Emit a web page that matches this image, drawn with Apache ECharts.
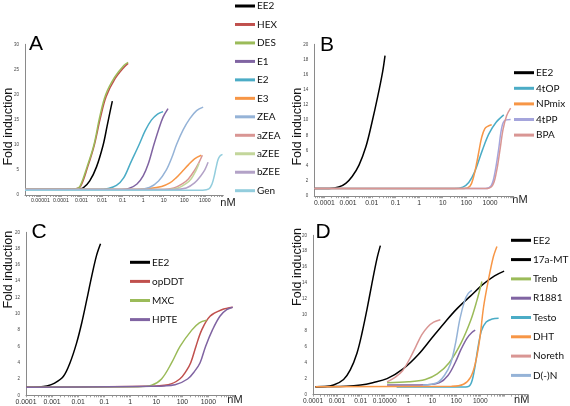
<!DOCTYPE html>
<html><head><meta charset="utf-8">
<script src="https://cdn.jsdelivr.net/npm/echarts@6/dist/echarts.min.js"></script>
<style>html,body{margin:0;padding:0;background:#fff}#c{width:570px;height:406px}</style>
</head><body><div id="c"></div>
<script>
// x values are log10(concentration in nM), y values are fold induction
const A_EE2 = [[-5.75,1.1],[-3.6,1.1],[-3.2,1.15],[-2.92,1.4],[-2.6,2.8],[-2.27,5.6],[-1.95,9.9],[-1.76,13.6],[-1.6,16.8],[-1.5,18.7]];
const A_HEX = [[-5.75,1.1],[-3.7,1.1],[-3.3,1.2],[-3.05,1.7],[-2.7,5.6],[-2.38,9.9],[-2.09,15.2],[-1.8,19.6],[-1.36,23.2],[-0.92,25.5],[-0.73,26.2]];
const A_DES = [[-5.75,1.1],[-3.7,1.1],[-3.3,1.2],[-3.09,1.6],[-2.73,5.6],[-2.40,9.9],[-2.11,15.6],[-1.82,20],[-1.38,23.5],[-0.94,25.8],[-0.73,26.4]];
const A_E1 = [[-5.75,1.1],[-1.2,1.1],[-0.7,1.3],[-0.3,2.2],[0.0,3.8],[0.25,6.2],[0.52,10],[0.75,13],[0.97,15.5],[1.21,17.2]];
const A_E2 = [[-5.75,1.1],[-2.2,1.1],[-1.7,1.3],[-1.3,1.9],[-0.95,3.4],[-0.6,6.5],[-0.2,10],[0.1,12.8],[0.4,14.9],[0.7,16.1],[0.97,16.6]];
const A_E3 = [[-5.75,1.1],[-0.5,1.1],[0.3,1.3],[0.9,1.7],[1.3,2.4],[1.6,3.4],[1.9,4.7],[2.2,6.0],[2.5,7.2],[2.83,7.9]];
const A_ZEA = [[-5.75,1.1],[-0.3,1.1],[0.3,1.5],[0.75,2.8],[1.13,5],[1.4,7.5],[1.62,10],[1.95,13],[2.27,15.2],[2.6,16.8],[2.92,17.5]];
const A_aZEA = [[-5.75,1.1],[1.0,1.1],[1.5,1.4],[1.9,2.2],[2.2,3.2],[2.5,4.9],[2.72,6.5],[2.88,7.9]];
const A_aZEE = [[-5.75,1.1],[1.2,1.1],[1.7,1.4],[2.1,2.3],[2.35,3.3],[2.55,4.7],[2.72,6.3]];
const A_bZEE = [[-5.75,1.1],[1.5,1.1],[2.1,1.4],[2.5,2.4],[2.8,3.8],[3.0,5.0],[3.16,6.5]];
const A_Gen = [[-5.75,0.95],[2.9,0.95],[3.2,1.2],[3.35,2.2],[3.45,3.6],[3.55,5.5],[3.65,7.1],[3.75,7.8],[3.86,8.1]];

const B_EE2 = [[-4.43,1.0],[-3.8,1.02],[-3.4,1.2],[-3.1,1.7],[-2.83,2.6],[-2.54,4.1],[-2.25,6.5],[-2.0,9.6],[-1.75,13.1],[-1.54,16.4],[-1.44,18.5]];
const B_4tOP = [[-4.43,1],[1.5,1.0],[1.85,1.2],[2.1,1.8],[2.35,3.2],[2.68,6.1],[2.95,8.2],[3.25,9.7],[3.58,10.7]];
const B_NPmix = [[-4.43,1],[1.9,1.0],[2.15,1.3],[2.3,2.5],[2.45,4.6],[2.54,6.1],[2.65,7.8],[2.78,8.9],[2.9,9.2],[3.07,9.4]];
const B_4tPP = [[-4.43,1],[2.8,1.0],[3.05,1.4],[3.2,3],[3.36,6.1],[3.48,8.8],[3.6,9.9],[3.87,10.1]];
const B_BPA = [[-4.43,1],[2.8,1.0],[3.1,1.4],[3.27,3.2],[3.42,6.1],[3.55,8.8],[3.7,10.6],[3.87,11.6]];

const C_EE2 = [[-4,1.0],[-3.5,1.03],[-3.2,1.15],[-2.9,1.5],[-2.57,2.3],[-2.31,4],[-2.06,6.4],[-1.86,8.9],[-1.67,11.7],[-1.48,14.6],[-1.29,17.2],[-1.14,18.6]];
const C_opDDT = [[-4,1.0],[0.5,1.1],[1.46,1.3],[1.9,2],[2.15,3],[2.32,4],[2.52,6],[2.74,8],[3.06,9.7],[3.51,10.5],[3.93,10.8]];
const C_MXC = [[-4,1.0],[0.3,1.05],[0.82,1.25],[1.2,2],[1.59,4],[1.91,6],[2.36,8],[2.65,8.9],[2.93,9.2]];
const C_HPTE = [[-4,1.0],[0.8,1.1],[1.72,1.3],[2.2,2],[2.48,3],[2.68,4],[2.89,6],[3.15,8],[3.44,9.7],[3.7,10.5],[3.93,10.8]];

const D_EE2 = [[-3.9,1.0],[-3.5,1.02],[-3.14,1.2],[-2.72,1.9],[-2.44,3.1],[-2.16,5.2],[-1.95,7.7],[-1.74,10.7],[-1.53,14],[-1.32,17.1],[-1.18,18.7]];
const D_17aMT = [[-3.9,1.0],[-2.6,1.05],[-2.0,1.2],[-1.5,1.5],[-0.9,2.0],[-0.2,3.3],[0.4,5.0],[1.0,7.2],[1.5,9.0],[2.0,10.7],[2.6,12.4],[3.1,13.8],[3.6,14.9],[4.0,15.5]];
const D_Trenb = [[-0.9,1.5],[0,1.6],[0.7,1.9],[1.2,2.6],[1.7,4],[2.2,6.5],[2.6,9.3],[2.85,11.7],[3.07,14.2]];
const D_R1881 = [[-0.9,1.2],[0.8,1.25],[1.3,1.5],[1.65,2.4],[1.95,4.0],[2.2,5.7],[2.45,7.1],[2.65,7.8],[2.79,8.1]];
const D_Testo = [[-0.5,0.95],[2.4,0.95],[2.6,1.3],[2.75,3],[2.9,5.8],[3.05,8.0],[3.25,9.1],[3.5,9.5],[3.77,9.6]];
const D_DHT = [[-3.9,1.0],[1.8,1.05],[2.3,1.3],[2.6,2.2],[2.8,4],[2.98,7],[3.14,11],[3.35,14.5],[3.55,17.3],[3.7,18.6]];
const D_Noreth = [[-0.9,1.6],[-0.55,2.2],[-0.25,3],[0.05,4.5],[0.3,6.0],[0.55,7.5],[0.8,8.5],[1.05,9.1],[1.33,9.4]];
const D_DN = [[0.6,1.2],[1.2,1.5],[1.5,2.4],[1.75,3.8],[1.95,6.2],[2.15,9.5],[2.35,11.8],[2.5,12.7],[2.65,13.1]];

const A_xLabels = [-5,-4,-3,-2,-1,0,1,2,3];
const B_xLabels = [-4,-3,-2,-1,0,1,2,3];
const C_xLabels = [-4,-3,-2,-1,0,1,2,3];
const D_xLabels = [-4,-3,-2,-1,0,1,2,3];
const labelText = {'-5':'0.00001','-4':'0.0001','-3':'0.001','-2':'0.01','-1':'0.1','0':'1','1':'10','2':'100','3':'1000'};

const COLORS = {EE2:'#000000',HEX:'#c0504d',DES:'#9bbb59',E1:'#8064a2',E2:'#4bacc6',E3:'#f79646',ZEA:'#95b3d7',aZEA:'#d99694',aZEE:'#c3d69b',bZEE:'#b3a2c7',Gen:'#93cddd',
 '4tOP':'#4bacc6',NPmix:'#f79646','4tPP':'#a5a5dc',BPA:'#d99694',opDDT:'#c0504d',MXC:'#9bbb59',HPTE:'#8064a2',
 '17a-MT':'#000000',Trenb:'#9bbb59',R1881:'#8064a2',Testo:'#4bacc6',DHT:'#f79646',Noreth:'#d99694','D(-)N':'#95b3d7'};

const panels = [
 {names:['EE2','HEX','DES','E1','E2','E3','ZEA','aZEA','aZEE','bZEE','Gen'], data:[A_EE2,A_HEX,A_DES,A_E1,A_E2,A_E3,A_ZEA,A_aZEA,A_aZEE,A_bZEE,A_Gen],
  grid:{left:25,top:44.3,width:198.3,height:150.7}, xmin:-5.75, xmax:3.9, ymax:30, yint:5, xl:A_xLabels, xfs:5.2,
  legend:{left:235,top:-1,gap:4.47}, letter:[36,44,'A'], ytitle:[8.5,126.7], nM:[228,203]},
 {names:['EE2','4tOP','NPmix','4tPP','BPA'], data:[B_EE2,B_4tOP,B_NPmix,B_4tPP,B_BPA],
  grid:{left:314.3,top:44.3,width:199.4,height:151.9}, xmin:-4.43, xmax:4.0, ymax:20, yint:2, xl:B_xLabels, xfs:6.8,
  legend:{left:514,top:65.7,gap:1.6}, letter:[327,45,'B'], ytitle:[297.7,126.7], nM:[520,200]},
 {names:['EE2','opDDT','MXC','HPTE'], data:[C_EE2,C_opDDT,C_MXC,C_HPTE],
  grid:{left:26,top:232.3,width:208.5,height:163}, xmin:-4, xmax:4, ymax:20, yint:2, xl:C_xLabels, xfs:6.9,
  legend:{left:130,top:255.3,gap:5.1}, letter:[39,232,'C'], ytitle:[8.5,269.7], nM:[235,399.5]},
 {names:['EE2','17a-MT','Trenb','R1881','Testo','DHT','Noreth','D(-)N'], data:[D_EE2,D_17aMT,D_Trenb,D_R1881,D_Testo,D_DHT,D_Noreth,D_DN],
  grid:{left:313,top:235.3,width:215,height:159.3}, xmin:-4, xmax:5, ymax:20, yint:2, xl:D_xLabels, xfs:6.6,
  legend:{left:511,top:233.3,gap:5.3}, letter:[323,232,'D'], ytitle:[297.7,267], nM:[521.7,399.5]}
];

function minorTicks(a,b){const t=[];for(let e=Math.floor(a);e<=Math.ceil(b);e++){for(let k=1;k<=9;k++){const v=e+Math.log10(k);if(v>=a&&v<=b)t.push(v);}}return t;}

const grids=[],xAxes=[],yAxes=[],series=[],legends=[],graphics=[];
panels.forEach((p,i)=>{
  grids.push(Object.assign({containLabel:false},p.grid));
  xAxes.push({type:'value',gridIndex:i,min:p.xmin,max:p.xmax,splitLine:{show:false},
    axisLine:{onZero:false,lineStyle:{color:'#8a8a8a',width:1}},
    axisTick:{customValues:minorTicks(p.xmin,p.xmax),length:2,inside:false,lineStyle:{color:'#8a8a8a',width:0.8}},
    axisLabel:{customValues:p.xl,formatter:v=>{const k=String(Math.round(v));return (i===3&&k==='-1')?'0.10000':labelText[k];},fontSize:p.xfs,color:'#333',margin:3,fontFamily:'Liberation Sans'}});
  yAxes.push({type:'value',gridIndex:i,min:0,max:p.ymax,interval:p.yint,splitLine:{show:false},
    axisLine:{show:true,onZero:false,lineStyle:{color:'#8a8a8a',width:1}},axisTick:{show:false},
    axisLabel:{fontSize:4.5,color:'#444',margin:6,fontFamily:'Liberation Sans'}});
  p.names.forEach((n,j)=>{
    series.push({name:n,type:'line',xAxisIndex:i,yAxisIndex:i,data:p.data[j],showSymbol:false,symbol:'none',
      smooth:0.35,color:COLORS[n],lineStyle:{color:COLORS[n],width:1.5},itemStyle:{color:COLORS[n]},animation:false,silent:true});
  });
  legends.push({orient:'vertical',left:p.legend.left,top:p.legend.top,itemGap:p.legend.gap,itemWidth:20,itemHeight:3,icon:'rect',
    data:p.names,padding:0,selectedMode:false,textStyle:{fontSize:10,lineHeight:14,color:'#111',fontFamily:'Lato',padding:[0,0,0,-3]}});
  graphics.push({type:'text',x:p.letter[0],y:p.letter[1],style:{text:p.letter[2],font:'21px "Liberation Sans"',fill:'#000',textAlign:'center',textVerticalAlign:'middle'}});
  graphics.push({type:'text',x:p.ytitle[0],y:p.ytitle[1],rotation:Math.PI/2,style:{text:'Fold induction',font:'12.5px "Liberation Sans"',fill:'#111',textAlign:'center',textVerticalAlign:'middle'}});
  graphics.push({type:'text',x:p.nM[0],y:p.nM[1],style:{text:'nM',font:'11px "Liberation Sans"',fill:'#222',textAlign:'center',textVerticalAlign:'middle'}});
});

const chart = echarts.init(document.getElementById('c'),null,{renderer:'canvas'});
chart.setOption({animation:false,grid:grids,xAxis:xAxes,yAxis:yAxes,series:series,legend:legends,graphic:graphics});
</script></body></html>
